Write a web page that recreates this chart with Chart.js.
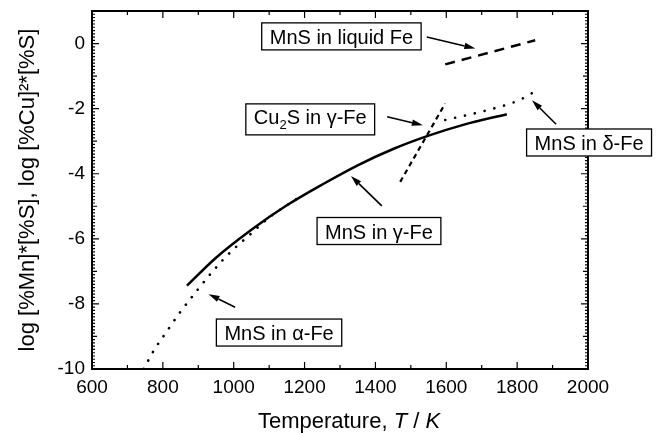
<!DOCTYPE html>
<html><head><meta charset="utf-8">
<script src="https://cdn.jsdelivr.net/npm/chart.js@4/dist/chart.umd.min.js"></script>
<style>html,body{margin:0;padding:0;background:#fff}#wrap{width:665px;height:434px;position:relative}</style>
</head><body><div id="wrap"><canvas id="c" width="665" height="434" style="width:665px;height:434px"></canvas></div>
<script>
// ---- data ----
const xTickValues = [600, 800, 1000, 1200, 1400, 1600, 1800, 2000];
const yTickValues = [-10, -8, -6, -4, -2, 0];

const gammaT   = [868, 950, 1050, 1150, 1250, 1350, 1450, 1550, 1650, 1771];
const gammaLog = [-7.44, -6.58, -5.72, -4.97, -4.33, -3.74, -3.24, -2.83, -2.49, -2.17];

const alphaT   = [746, 774, 812, 849, 892, 939, 990, 1047, 1103, 1160, 1190];
const alphaLog = [-10, -9.44, -8.83, -8.25, -7.65, -7.02, -6.42, -5.86, -5.32, -4.90, -4.68];

const cu2sT   = [1470, 1597];
const cu2sLog = [-4.25, -1.84];

const deltaT   = [1597, 1715, 1801, 1854];
const deltaLog = [-2.35, -2.05, -1.76, -1.45];

const liquidT   = [1597, 1851];
const liquidLog = [-0.64, 0.10];

const labelTexts = ['MnS in liquid Fe', 'Cu_2S in γ-Fe', 'MnS in δ-Fe', 'MnS in γ-Fe', 'MnS in α-Fe'];
const labelT     = [1304, 1216, 2003, 1410, 1128];
const labelLog   = [0.22, -2.33, -3.04, -5.76, -8.88];
const arrowFromT   = [1545, 1433, 1910, 1418, 1004];
const arrowFromLog = [0.20, -2.25, -2.48, -4.99, -8.10];
const arrowToT     = [1682, 1534, 1842, 1331, 929];
const arrowToLog   = [-0.15, -2.51, -1.74, -4.07, -7.70];

const xTitleParts = [['Temperature, ', false], ['T', true], [' / ', false], ['K', true]];
const yTitleText = 'log [%Mn]*[%S], log [%Cu]²*[%S]';

// ---- helpers ----
const FONT = '"Liberation Sans", Arial, Helvetica, sans-serif';
const pts = (xs, ys) => xs.map((x, i) => ({x, y: ys[i]}));

Chart.defaults.font.family = FONT;
Chart.defaults.color = '#000';

function drawArrow(ctx, x1, y1, x2, y2) {
  const ang = Math.atan2(y2 - y1, x2 - x1);
  const L = 11, W = 3.2;
  const bx = x2 - L * Math.cos(ang), by = y2 - L * Math.sin(ang);
  ctx.beginPath();
  ctx.moveTo(x1, y1); ctx.lineTo(bx, by);
  ctx.lineWidth = 1.6; ctx.stroke();
  ctx.beginPath();
  ctx.moveTo(x2, y2);
  ctx.lineTo(bx + W * Math.sin(ang), by - W * Math.cos(ang));
  ctx.lineTo(bx - W * Math.sin(ang), by + W * Math.cos(ang));
  ctx.closePath(); ctx.fill();
}

function parseLabel(t) {
  const parts = [];
  let buf = '';
  for (let i = 0; i < t.length; i++) {
    if (t[i] === '_' && i + 1 < t.length) {
      if (buf) parts.push([buf, false]);
      buf = '';
      parts.push([t[i + 1], true]);
      i++;
    } else buf += t[i];
  }
  if (buf) parts.push([buf, false]);
  return parts;
}

const decor = {
  id: 'decor',
  afterDraw(chart) {
    const {ctx, chartArea: a, scales: {x, y}} = chart;
    ctx.save();
    ctx.strokeStyle = '#000'; ctx.fillStyle = '#000';
    // ticks
    ctx.lineWidth = 1.2;
    ctx.beginPath();
    for (let v = 600; v <= 2000; v += 100) {
      const px = x.getPixelForValue(v);
      const len = (v % 200 === 0) ? 7 : 4;
      ctx.moveTo(px, a.bottom); ctx.lineTo(px, a.bottom - len);
      ctx.moveTo(px, a.top); ctx.lineTo(px, a.top + len);
    }
    for (let k = -100; k <= 10; k++) {
      const v = k / 10;
      const py = y.getPixelForValue(v);
      let len = 3;
      if (k % 20 === 0) len = 7; else if (k % 10 === 0) len = 5;
      ctx.moveTo(a.left, py); ctx.lineTo(a.left + len, py);
      ctx.moveTo(a.right, py); ctx.lineTo(a.right - len, py);
    }
    ctx.stroke();
    // frame
    ctx.lineWidth = 2;
    ctx.strokeRect(a.left, a.top, a.right - a.left, a.bottom - a.top);

    // arrows
    for (let i = 0; i < labelTexts.length; i++) {
      drawArrow(ctx,
        x.getPixelForValue(arrowFromT[i]), y.getPixelForValue(arrowFromLog[i]),
        x.getPixelForValue(arrowToT[i]), y.getPixelForValue(arrowToLog[i]));
    }
    // label boxes
    const fs = 20;
    for (let i = 0; i < labelTexts.length; i++) {
      const parts = parseLabel(labelTexts[i]);
      let w = 0;
      const hasSub = parts.some(p => p[1]);
      parts.forEach(p => { ctx.font = (p[1] ? 13 : fs) + 'px ' + FONT; p.w = ctx.measureText(p[0]).width; w += p.w; });
      const cx = x.getPixelForValue(labelT[i]), cy = y.getPixelForValue(labelLog[i]);
      const bw = w + 16, bh = hasSub ? 31 : 27;
      ctx.fillStyle = '#fff';
      ctx.fillRect(cx - bw / 2, cy - bh / 2, bw, bh);
      ctx.lineWidth = 1.3; ctx.strokeStyle = '#000';
      ctx.strokeRect(cx - bw / 2, cy - bh / 2, bw, bh);
      ctx.fillStyle = '#000';
      ctx.textBaseline = 'alphabetic'; ctx.textAlign = 'left';
      let tx = cx - w / 2;
      const base = cy + (hasSub ? 5 : 7.5);
      parts.forEach(p => {
        ctx.font = (p[1] ? 13 : fs) + 'px ' + FONT;
        ctx.fillText(p[0], tx, p[1] ? base + 5 : base);
        tx += p.w;
      });
    }
    // x-axis title with italic parts
    let tw = 0;
    const tf = 22;
    xTitleParts.forEach(p => { ctx.font = (p[1] ? 'italic ' : '') + tf + 'px ' + FONT; p.w = ctx.measureText(p[0]).width; tw += p.w; });
    let tx = (a.left + a.right) / 2 + 9 - tw / 2;
    xTitleParts.forEach(p => {
      ctx.font = (p[1] ? 'italic ' : '') + tf + 'px ' + FONT;
      ctx.fillText(p[0], tx, a.bottom + 59);
      tx += p.w;
    });
    ctx.restore();
  }
};

const lineDs = (label, data, opts) => Object.assign({
  label, data, showLine: true, pointRadius: 0, pointHoverRadius: 0,
  borderColor: '#000', backgroundColor: '#000', fill: false,
  cubicInterpolationMode: 'monotone'
}, opts);

new Chart(document.getElementById('c'), {
  type: 'scatter',
  data: {
    datasets: [
      lineDs('MnS in γ-Fe', pts(gammaT, gammaLog), {borderWidth: 2.5}),
      lineDs('MnS in α-Fe', pts(alphaT, alphaLog), {borderWidth: 2.6, borderDash: [0.1, 9.5], borderCapStyle: 'round'}),
      lineDs('Cu2S in γ-Fe', pts(cu2sT, cu2sLog), {borderWidth: 2.2, borderDash: [5, 4]}),
      lineDs('MnS in δ-Fe', pts(deltaT, deltaLog), {borderWidth: 2.6, borderDash: [0.1, 10], borderCapStyle: 'round'}),
      lineDs('MnS in liquid Fe', pts(liquidT, liquidLog), {borderWidth: 2.5, borderDash: [10, 7]})
    ]
  },
  options: {
    responsive: false,
    animation: false,
    devicePixelRatio: 1,
    layout: {padding: {top: 11, right: 77, left: 0, bottom: 0}},
    plugins: {legend: {display: false}, tooltip: {enabled: false}},
    scales: {
      x: {
        type: 'linear', min: 600, max: 2000,
        grid: {display: false, drawTicks: false},
        border: {display: false},
        ticks: {font: {size: 19}, color: '#000', padding: 7, maxRotation: 0, callback: v => String(v)},
        afterBuildTicks: s => { s.ticks = xTickValues.map(v => ({value: v})); },
        afterFit: s => { s.height = 65; s.paddingLeft = 0; s.paddingRight = 0; }
      },
      y: {
        type: 'linear', min: -10, max: 1,
        grid: {display: false, drawTicks: false},
        border: {display: false},
        ticks: {font: {size: 19}, color: '#000', padding: 7, callback: v => String(v)},
        afterBuildTicks: s => { s.ticks = yTickValues.map(v => ({value: v})); },
        afterFit: s => { s.width = 92; s.paddingTop = 0; s.paddingBottom = 0; },
        title: {display: true, text: yTitleText, font: {size: 22}, color: '#000', padding: {top: 15, bottom: 0}}
      }
    }
  },
  plugins: [decor]
});
</script>
</body></html>
